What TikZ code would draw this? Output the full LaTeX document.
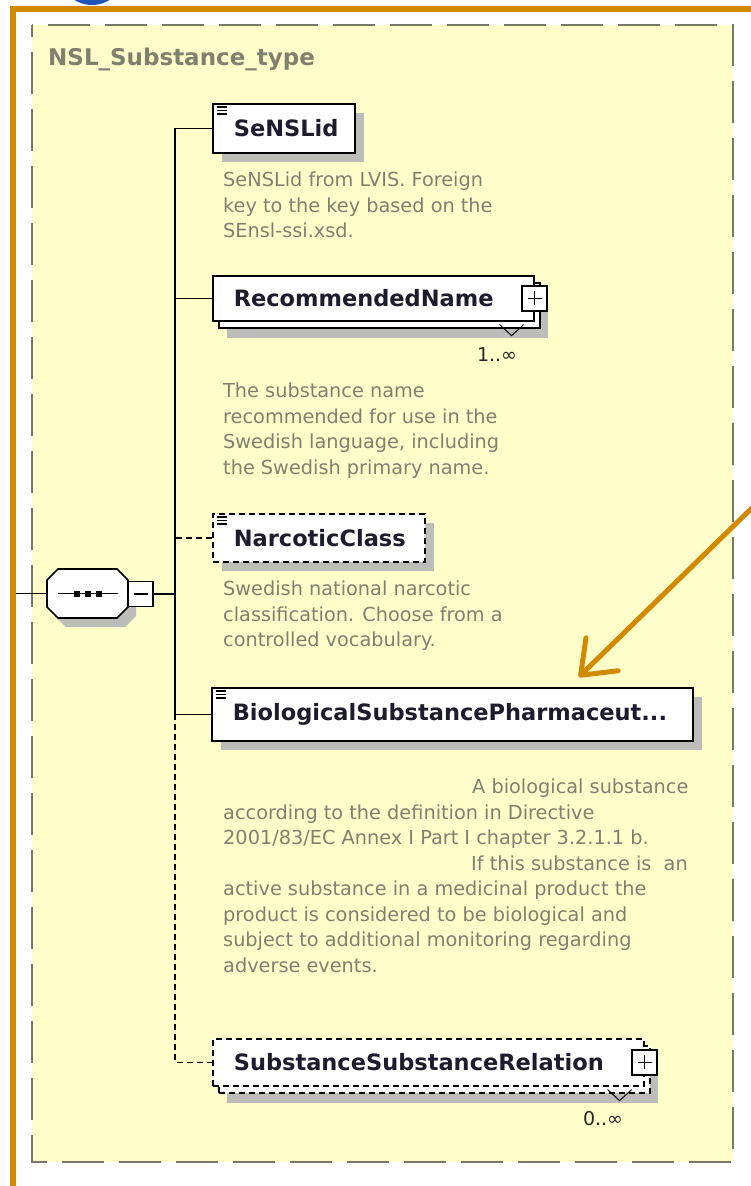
\documentclass[tikz,border=0pt]{standalone}
\usepackage{fontspec}
\setmainfont{DejaVu Sans}
\usetikzlibrary{arrows.meta,shadows}

\definecolor{frameorange}{RGB}{209,138,0}
\definecolor{badgeblue}{RGB}{30,85,185}
\definecolor{panelyellow}{RGB}{255,253,202}
\definecolor{paneldash}{RGB}{120,120,104}
\definecolor{doctext}{RGB}{128,128,110}
\definecolor{shadowgray}{RGB}{188,188,184}
\definecolor{elemtext}{RGB}{28,28,44}

\tikzset{
  elem/.style={draw, fill=white, line width=1.6pt, anchor=north west, align=left,
    inner xsep=21pt, inner ysep=0pt, text=elemtext,
    font=\fontsize{22.5}{27}\selectfont\bfseries},
  single/.style={drop shadow={shadow xshift=9pt, shadow yshift=-9pt, fill=shadowgray, opacity=1}},
  multi/.style={drop shadow={shadow xshift=14pt, shadow yshift=-17pt, fill=shadowgray, opacity=1},
    copy shadow={shadow xshift=6pt, shadow yshift=-7pt, draw=black, fill=white, line width=1.6pt, #1}},
  multi/.default={},
  optional/.style={dash pattern=on 6pt off 4pt},
  conn/.style={line width=1.6pt},
  doc/.style={anchor=north west, align=left, inner sep=0pt, text=doctext,
    font=\fontsize{19.3}{25.5}\selectfont},
  card/.style={inner sep=0pt, text=black!85, font=\fontsize{19}{22}\selectfont},
  boxsign/.style={draw, fill=white, line width=1.4pt, minimum width=25pt,
    minimum height=25pt, inner sep=0pt},
  plus/.style={boxsign, path picture={
    \draw[line width=1.4pt] ([xshift=-7pt]path picture bounding box.center) -- ([xshift=7pt]path picture bounding box.center)
      ([yshift=-7pt]path picture bounding box.center) -- ([yshift=7pt]path picture bounding box.center);}},
  minus/.style={boxsign, path picture={
    \draw[line width=1.4pt] ([xshift=-7pt]path picture bounding box.center) -- ([xshift=7pt]path picture bounding box.center);}},
  seqbox/.style={minimum width=81pt, minimum height=49pt, inner sep=0pt},
}

\begin{document}
\begin{tikzpicture}[x=1pt, y=-1pt]

  %% page, badge, frame and panel
  \fill[white] (0,0) rectangle (750,1186);
  \fill[badgeblue] (92,-28) circle (33);
  \fill[panelyellow] (32,25) rectangle (733,1162);
  \draw[paneldash, line width=2pt, dash pattern=on 42pt off 15pt, dash phase=30pt] (32,25) rectangle (733,1162);
  \draw[frameorange, line width=6pt] (13,1190) -- (13,9) -- (756,9);

  \node[anchor=base west, inner sep=0pt, text=doctext, font=\fontsize{23}{28}\selectfont\bfseries] (title) at (48,65) {NSL\_Substance\_type};

  %% compositor (sequence)
  \node[seqbox] (seq) at (87.5,593.5) {};
  \draw[line width=1.6pt, fill=white, preaction={fill=shadowgray, transform canvas={shift={(8pt,-9pt)}}}]
    ([shift={(-29.5,-24.5)}]seq.center) -- ([shift={(29.5,-24.5)}]seq.center)
    -- ([shift={(40.5,-13.5)}]seq.center) -- ([shift={(40.5,13.5)}]seq.center)
    -- ([shift={(29.5,24.5)}]seq.center) -- ([shift={(-29.5,24.5)}]seq.center)
    -- ([shift={(-40.5,13.5)}]seq.center) -- ([shift={(-40.5,-13.5)}]seq.center) -- cycle;
  \node[minus] (seq-minus) at (140.5,594) {};
  \draw[line width=1.6pt] ([shift={(-30,0)}]seq.center) -- ([shift={(30,0)}]seq.center);
  \foreach \dx in {-11,0,11}
    \fill ([shift={(\dx-3,-3)}]seq.center) rectangle ([shift={(\dx+3,3)}]seq.center);

  %% elements
  \node[elem, single, text width=100pt, minimum height=49pt] (sensl) at (212,103) {SeNSLid};
  \node[elem, multi, text width=279pt, minimum height=45pt] (recname) at (212,275) {RecommendedName};
  \node[plus] (recname-plus) at (recname.east) {};
  \node[elem, single, optional, text width=170pt, minimum height=48pt] (narc) at (212,513) {NarcoticClass};
  \node[elem, single, text width=439pt, minimum height=53pt] (bio) at (211,687) {BiologicalSubstancePharmaceut...};
  \node[elem, multi=optional, optional, text width=389pt, minimum height=47pt] (ssr) at (212,1038) {SubstanceSubstanceRelation};
  \node[plus] (ssr-plus) at (ssr.east) {};

  \foreach \n in {sensl,narc,bio}
    \foreach \dy in {4,7.5,11}
      \draw[line width=1.1pt] ([shift={(5,\dy)}]\n.north west) -- ++(10,0);

  %% occurrence
  \node[card] (recname-card) at (497,355) {1..∞};
  \node[card] (ssr-card) at (603,1119) {0..∞};
  \draw[line width=1pt] ([shift={(-35,3)}]recname.south east) -- ++(12,11) -- ++(12,-11);
  \draw[line width=1pt] ([shift={(-37,3)}]ssr.south east) -- ++(12,11) -- ++(12,-11);

  %% annotations
  \node[doc] (sensl-doc) at (223,172) {SeNSLid from LVIS. Foreign\\key to the key based on the\\SEnsl-ssi.xsd.};
  \node[doc] (recname-doc) at (223,383) {The substance name\\recommended for use in the\\Swedish language, including\\the Swedish primary name.};
  \node[doc] (narc-doc) at (223,581) {Swedish national narcotic\\classification. Choose from a\\controlled vocabulary.};
  \node[doc] (bio-doc) at (223,779) {\hspace*{249pt}A biological substance\\according to the definition in Directive\\2001/83/EC Annex I Part I chapter 3.2.1.1 b.\\\hspace*{248pt}If this substance is\ \ an\\active substance in a medicinal product the\\product is considered to be biological and\\subject to additional monitoring regarding\\adverse events.};

  %% connectors
  \coordinate (inlet) at (16,0 |- seq.west);
  \coordinate (spine) at (175,0 |- bio.west);
  \draw[conn] (inlet) -- (seq.west);
  \draw[conn] (seq-minus.east) -- (seq-minus.east -| spine);
  \draw[conn] (sensl.west) -| (spine) -- (bio.west);
  \draw[conn] (recname.west) -- (recname.west -| spine);
  \draw[conn, optional] (narc.west) -- (narc.west -| spine);
  \draw[conn, optional] (spine) |- (ssr.west);

  %% pointer
  \coordinate (pointer-tail) at (756,504);
  \draw[frameorange, line width=5pt, -{Straight Barb[length=30pt, width=46pt, round]}] (pointer-tail) -- ([shift={(126.5,-10)}]bio.north);

  \pgfresetboundingbox
  \path[use as bounding box] (0,0) rectangle (750,1186);
\end{tikzpicture}
\end{document}
